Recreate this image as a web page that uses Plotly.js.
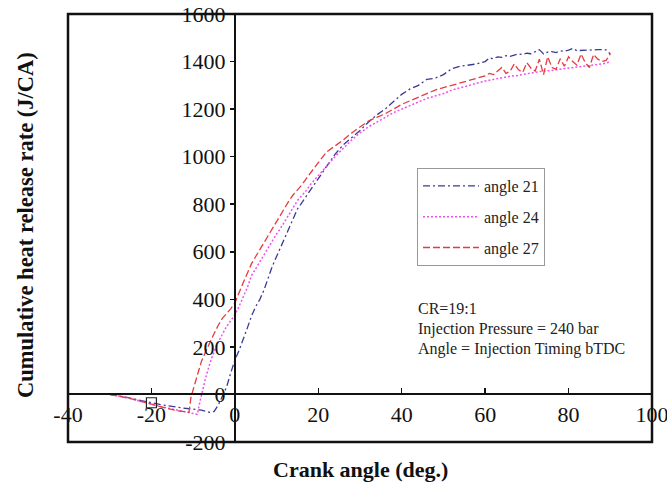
<!DOCTYPE html>
<html><head><meta charset="utf-8">
<script src="https://cdn.plot.ly/plotly-3.0.1.min.js"></script>
<style>body{margin:0;background:#fff}#c{width:667px;height:484px}</style>
</head><body><div id="c"></div>
<script>
// ---- data ----
const seriesNames = ["angle 21", "angle 24", "angle 27"];

const x21 = [-30,-28,-26,-24,-22,-20,-18,-16,-14,-12,-10,-8,-6,-5,-4,-3,-2,-1,0,1,2,3,4,5,6,7,8,9,10,11,12,13,14,15,16,17,18,19,20,22,24,26,28,30,32,34,36,38,40,42,44,46,48,50,52,54,56,58,60,61,62,63,64,65,66,67,68,69,70,71,72,73,74,75,76,77,78,79,80,81,82,83,84,85,86,87,88,89,90];
const y21 = [0,-5,-12,-20,-28,-36,-42,-48,-54,-58,-62,-66,-75,-72,-45,-10,30,90,145,185,230,280,330,370,400,440,490,540,580,620,660,700,740,780,805,830,860,880,905,960,1010,1050,1080,1110,1145,1175,1200,1230,1262,1285,1300,1325,1330,1345,1370,1380,1385,1390,1400,1415,1412,1420,1418,1425,1422,1428,1432,1430,1435,1433,1440,1450,1432,1440,1442,1438,1445,1443,1448,1455,1446,1447,1450,1450,1450,1450,1450,1449,1432];

const x24 = [-30,-28,-26,-24,-22,-20,-18,-16,-14,-12,-10,-9,-8.5,-8,-7,-6,-5,-4,-3,-2,-1,0,1,2,3,4,5,6,7,8,9,10,11,12,13,14,15,16,17,18,19,20,22,24,26,28,30,32,34,36,38,40,42,44,46,48,50,52,54,56,58,60,62,64,66,68,70,72,74,76,78,80,82,84,86,88,90];
const y24 = [0,-5,-12,-22,-30,-40,-50,-58,-66,-74,-82,-84,-40,0,70,130,180,220,255,285,310,335,370,410,450,500,530,560,590,620,650,675,700,730,760,790,815,835,855,880,900,920,960,1000,1035,1070,1100,1125,1145,1165,1185,1200,1215,1230,1245,1255,1265,1280,1290,1300,1310,1318,1325,1332,1338,1342,1350,1355,1360,1362,1368,1372,1375,1380,1385,1390,1398];

const x27 = [-30,-28,-26,-24,-22,-20,-18,-16,-14,-12,-11,-10.5,-9,-8,-7,-6,-5,-4,-3,-2,-1,0,1,2,3,4,5,6,7,8,9,10,11,12,13,14,15,16,17,18,19,20,22,24,26,28,30,32,34,36,38,40,42,44,46,48,50,52,54,56,58,60,61,62,63,64,65,66,67,68,69,70,71,72,73,74,75,76,77,78,79,80,81,82,83,84,85,86,87,88,89,90];
const y27 = [0,-6,-14,-22,-32,-42,-52,-60,-68,-74,-75,-10,80,140,180,220,255,290,320,340,360,385,430,470,510,550,580,610,640,670,700,730,760,790,815,840,860,880,905,930,950,975,1020,1045,1070,1100,1125,1150,1165,1180,1200,1220,1235,1250,1265,1280,1290,1300,1310,1320,1330,1340,1350,1345,1360,1375,1350,1360,1390,1365,1355,1395,1372,1360,1410,1345,1420,1375,1368,1412,1380,1420,1400,1385,1432,1395,1375,1430,1410,1400,1405,1432];

const markX = [-20];
const markY = [-35];

const xTicks = [-40,-20,0,20,40,60,80,100];
const yTicks = [-200,0,200,400,600,800,1000,1200,1400,1600];

const noteLines = ["CR=19:1", "Injection Pressure = 240 bar", "Angle = Injection Timing bTDC"];

// ---- chart ----
const serif = "Liberation Serif, Times New Roman, serif";
const traces = [
  {x:x21, y:y21, name:seriesNames[0], mode:"lines", legendgroup:"a",
   line:{color:"#3a3a96", width:1.3, dash:"7px,3px,2px,3px"}},
  {x:x24, y:y24, name:seriesNames[1], mode:"lines", legendgroup:"b",
   line:{color:"#f050f0", width:1.5, dash:"2px,2px"}},
  {x:x27, y:y27, name:seriesNames[2], mode:"lines", legendgroup:"c",
   line:{color:"#e63a40", width:1.3, dash:"7px,3px"}},
  {x:markX, y:markY, mode:"markers", showlegend:false, hoverinfo:"skip",
   marker:{symbol:"square-open", size:10, color:"#222", line:{width:1.2}}}
];

const noteY = [308, 328.5, 349];
const annotations = [
  {text:"<b>Crank angle (deg.)</b>", xref:"paper", yref:"paper", x:(360-68)/584, y:1-(470-14)/428,
   xanchor:"center", yanchor:"middle", showarrow:false, font:{family:serif, size:22, color:"#111"}},
  {text:"<b>Cumulative heat release rate (J/CA)</b>", xref:"paper", yref:"paper",
   x:(25-68)/584, y:1-(225-14)/428, xanchor:"center", yanchor:"middle", textangle:-90, showarrow:false,
   font:{family:serif, size:22.5, color:"#111"}}
];
noteLines.forEach((t,i)=>annotations.push({text:t, xref:"paper", yref:"paper",
  x:(416-68)/584, y:1-(noteY[i]-14)/428, xanchor:"left", yanchor:"middle", showarrow:false,
  font:{family:serif, size:16, color:"#222"}}));

const layout = {
  width:667, height:484,
  margin:{l:68, r:15, t:14, b:42},
  paper_bgcolor:"#fff", plot_bgcolor:"#fff",
  font:{family:serif, color:"#111", size:20},
  showlegend:true,
  legend:{x:(417-68)/584, y:1-(168-14)/428, xanchor:"left", yanchor:"top",
    bordercolor:"#999", borderwidth:1, bgcolor:"#fff",
    font:{family:serif, size:16, color:"#222"},
    tracegroupgap:7, traceorder:"grouped", itemwidth:56},
  xaxis:{range:[-40,100], tickvals:xTicks, ticktext:xTicks.map(String),
    anchor:"free", position:200/1800, showline:true, linecolor:"#111", linewidth:2,
    ticks:"inside", ticklen:5, tickwidth:1.5, tickcolor:"#111",
    showgrid:false, zeroline:false, ticklabeloverflow:"allow",
    tickfont:{family:serif, size:22, color:"#111"}},
  yaxis:{range:[-200,1600], tickvals:yTicks, ticktext:yTicks.map(String),
    anchor:"free", position:40/140, showline:true, linecolor:"#111", linewidth:2,
    ticks:"outside", ticklen:4, tickwidth:1.5, tickcolor:"#111",
    showgrid:false, zeroline:false, ticklabeloverflow:"allow",
    tickfont:{family:serif, size:22, color:"#111"}},
  shapes:[{type:"rect", xref:"paper", yref:"paper", x0:0, x1:1, y0:0, y1:1,
    line:{color:"#111", width:2.5}}],
  annotations:annotations
};
Plotly.newPlot("c", traces, layout, {displayModeBar:false, staticPlot:true});
</script>
</body></html>
